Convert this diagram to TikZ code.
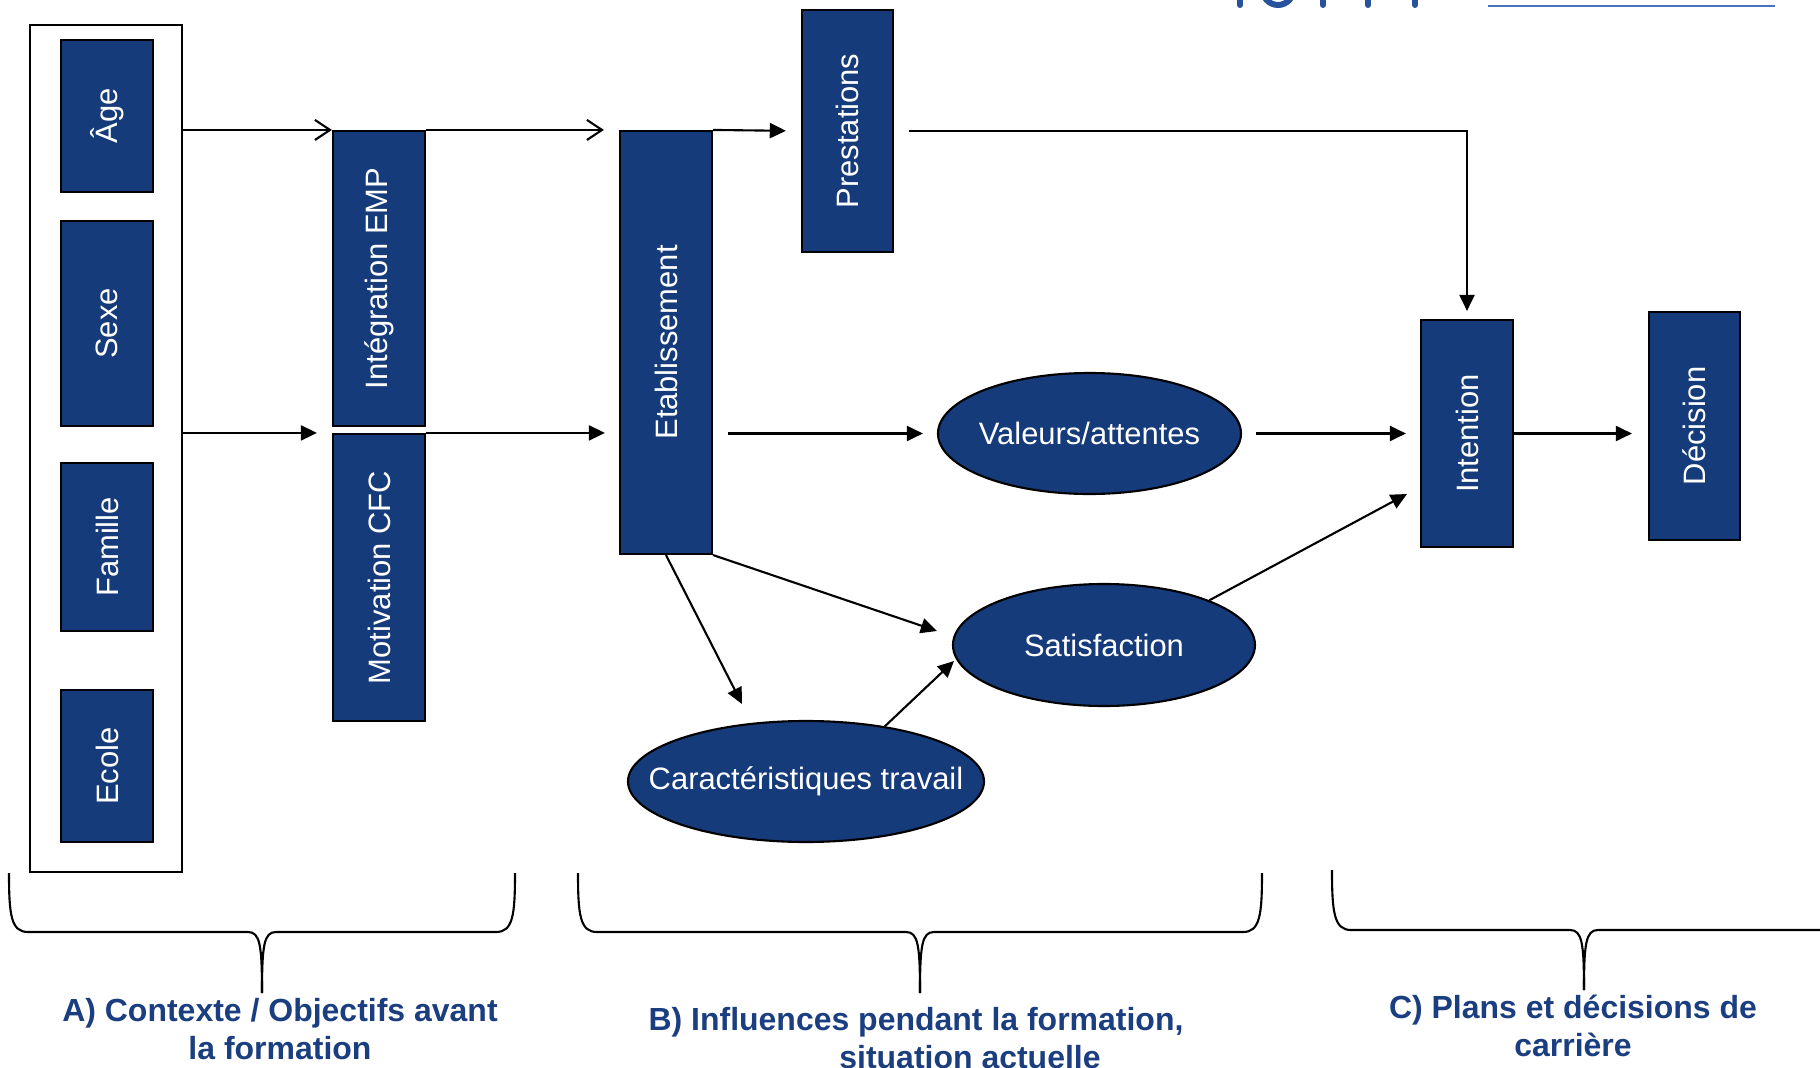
\documentclass[tikz,border=0pt]{standalone}
\usepackage{fontspec}
\setmainfont{Liberation Sans}
\usepackage{tikz}
\usetikzlibrary{arrows.meta,shapes,positioning,calc}
\definecolor{ehbnavy}{RGB}{22,59,122}
\definecolor{ehblabel}{RGB}{27,62,128}
\definecolor{ehblogo}{RGB}{40,82,156}
\definecolor{ehbrule}{RGB}{70,114,190}
\tikzstyle{factor} = [rectangle, draw=black, line width=0.6pt, fill=ehbnavy, text=white, inner sep=0pt, minimum width=0.92cm, font=\fontsize{8.8pt}{10.5pt}\selectfont]
\tikzstyle{bubble} = [ellipse, draw=black, line width=0.6pt, fill=ehbnavy, text=white, inner sep=0pt, font=\fontsize{8.8pt}{10.5pt}\selectfont]
\tikzstyle{arrow} = [line width=0.6pt, -{Triangle[length=4.6pt,width=4.3pt]}]
\tikzstyle{openarrow} = [line width=0.6pt, -{Straight Barb[length=4.3pt,width=5.7pt]}]
\tikzstyle{brace} = [line width=0.6pt]
\tikzstyle{phase} = [font=\bfseries\fontsize{9.1pt}{10.8pt}\selectfont, text=ehblabel, align=center]

\begin{document}
\begin{tikzpicture}
    \useasboundingbox (0,0) rectangle (18.2,-10.68);
    \clip (0,0) rectangle (18.2,-10.68);

    % Logo fragment and rule
    \draw[ehblogo, line width=0.06cm, line cap=round] (12.40,0.1) -- (12.40,-0.05);
    \draw[ehblogo, line width=0.06cm] (12.78,0.12) ellipse (0.16 and 0.17);
    \draw[ehblogo, line width=0.06cm, line cap=round] (13.23,0.1) -- (13.23,-0.05);
    \draw[ehblogo, line width=0.06cm, line cap=round] (13.68,0.1) -- (13.68,-0.05);
    \draw[ehblogo, line width=0.06cm, line cap=round] (14.15,0.1) -- (14.15,-0.05);
    \draw[ehbrule, line width=0.5pt] (14.88,-0.06) -- (17.75,-0.06);

    % Context
    \node[draw=black, line width=0.6pt, inner sep=0pt, minimum width=1.52cm, minimum height=8.47cm] (context) at (1.06,-4.485) {};
    \node[factor, minimum height=1.52cm] (age) at (1.07,-1.16) {\rotatebox{90}{Âge}};
    \node[factor, minimum height=2.05cm] (sexe) at (1.07,-3.235) {\rotatebox{90}{Sexe}};
    \node[factor, minimum height=1.68cm] (famille) at (1.07,-5.47) {\rotatebox{90}{Famille}};
    \node[factor, minimum height=1.52cm] (ecole) at (1.07,-7.66) {\rotatebox{90}{Ecole}};

    % Objectives
    \node[factor, minimum height=2.95cm] (integ) at (3.79,-2.785) {\rotatebox{90}{Intégration EMP}};
    \node[factor, minimum height=2.87cm] (motiv) at (3.79,-5.775) {\rotatebox{90}{Motivation CFC}};

    % During training
    \node[factor, minimum height=4.23cm] (etab) at (6.66,-3.425) {\rotatebox{90}{Etablissement}};
    \node[factor, minimum width=0.91cm, minimum height=2.42cm] (prest) at (8.475,-1.31) {\rotatebox{90}{Prestations}};
    \node[bubble, minimum width=3.03cm, minimum height=1.21cm] (valeurs) at (10.895,-4.335) {\makebox[0pt]{Valeurs/attentes}};
    \node[bubble, minimum width=3.02cm, minimum height=1.22cm] (satisf) at (11.04,-6.45) {\makebox[0pt]{Satisfaction}};
    \node[bubble, minimum width=3.56cm, minimum height=1.21cm] (caract) at (8.06,-7.815) {\makebox[0pt]{Caractéristiques travail}};

    % Career
    \node[factor, minimum height=2.27cm] (intent) at (14.67,-4.335) {\rotatebox{90}{Intention}};
    \node[factor, minimum width=0.91cm, minimum height=2.28cm] (decis) at (16.945,-4.26) {\rotatebox{90}{Décision}};

    % Arrows
    \draw[openarrow] (context.east |- integ.north west) -- (integ.north west);
    \draw[openarrow, shorten >=0.15cm] (integ.north east) -- (etab.north west);
    \draw[arrow, shorten >=0.15cm] (etab.north east) -- (prest.west);
    \draw[arrow, shorten <=0.15cm, shorten >=0.08cm] (prest.east) -| (intent.north);
    \draw[arrow, shorten >=0.15cm] (context.east |- motiv.north west) -- (motiv.north west);
    \draw[arrow, shorten >=0.14cm] (motiv.north east) -- (etab.west |- motiv.north east);
    \draw[arrow, shorten <=0.15cm, shorten >=0.14cm] (etab.east |- valeurs.west) -- (valeurs.west);
    \draw[arrow, shorten <=0.14cm, shorten >=0.14cm] (valeurs.east) -- (intent.west);
    \draw[arrow, shorten >=0.16cm] (intent.east) -- (decis.west |- intent.east);
    \coordinate (tocaract) at (7.42,-7.04);
    \coordinate (tosatisf) at (9.37,-6.31);
    \coordinate (tosatisf2) at (9.54,-6.61);
    \coordinate (tointent) at (14.07,-4.94);
    \draw[arrow] (etab.south) -- (tocaract);
    \draw[arrow] (etab.south east) -- (tosatisf);
    \draw[arrow] (caract.35) -- (tosatisf2);
    \draw[arrow] (satisf.23) -- (tointent);

    % Braces
    \draw[brace] (0.09,-8.73) .. controls (0.09,-9.15) and (0.11,-9.32) .. (0.28,-9.32) -- (2.48,-9.32) .. controls (2.60,-9.32) and (2.62,-9.45) .. (2.62,-9.93);
    \draw[brace] (5.15,-8.73) .. controls (5.15,-9.15) and (5.13,-9.32) .. (4.96,-9.32) -- (2.76,-9.32) .. controls (2.64,-9.32) and (2.62,-9.45) .. (2.62,-9.93);
    \draw[brace] (5.78,-8.73) .. controls (5.78,-9.15) and (5.80,-9.32) .. (5.97,-9.32) -- (9.06,-9.32) .. controls (9.18,-9.32) and (9.20,-9.45) .. (9.20,-9.93);
    \draw[brace] (12.62,-8.73) .. controls (12.62,-9.15) and (12.60,-9.32) .. (12.43,-9.32) -- (9.34,-9.32) .. controls (9.22,-9.32) and (9.20,-9.45) .. (9.20,-9.93);
    \draw[brace] (13.32,-8.70) .. controls (13.32,-9.12) and (13.34,-9.30) .. (13.51,-9.30) -- (15.70,-9.30) .. controls (15.82,-9.30) and (15.84,-9.43) .. (15.84,-9.90);
    \draw[brace] (18.50,-9.30) -- (15.98,-9.30) .. controls (15.86,-9.30) and (15.84,-9.43) .. (15.84,-9.90);

    % Phase labels
    \node[phase] (phaseA) at (2.80,-10.29) {A) Contexte / Objectifs avant\\la formation};
    \node[phase] (phaseB) at (9.16,-10.38) {B) Influences pendant la formation,\\\hspace*{1.08cm}situation actuelle};
    \node[phase] (phaseC) at (15.73,-10.26) {C) Plans et décisions de\\carrière};
\end{tikzpicture}
\end{document}
